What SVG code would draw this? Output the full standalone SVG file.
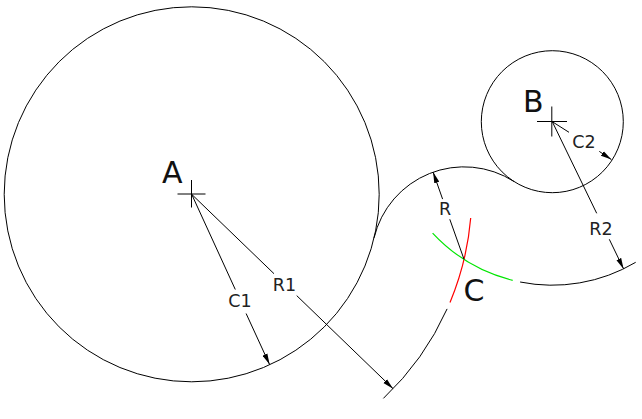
<svg xmlns="http://www.w3.org/2000/svg" width="642" height="419" viewBox="0 0 642 419">
<style>
.ln{fill:none;stroke:#000;stroke-width:1}
.red{fill:none;stroke:#ff0000;stroke-width:1.2}
.grn{fill:none;stroke:#00e600;stroke-width:1.2}
.big{font-family:"DejaVu Sans",Verdana,sans-serif;font-size:30px;fill:#111;text-anchor:middle}
.sm{font-family:"DejaVu Sans",Verdana,sans-serif;font-size:17.5px;fill:#222;text-anchor:middle}
</style>
<defs>
<marker id="arr" viewBox="-11 -3 11 6" markerWidth="11" markerHeight="6" refX="0" refY="0" orient="auto" markerUnits="userSpaceOnUse">
<path d="M0,0 L-11,-2.6 L-11,2.6 Z" fill="#000"/>
</marker>
</defs>
<rect width="642" height="419" fill="#fff"/>
<g id="circleA">
<circle class="ln" cx="191.7" cy="194.3" r="187.5"/>
<path class="ln" d="M177.5 194 H205.5 M191.5 180 V207.5"/>
<text class="big" x="172.2" y="182.7">A</text>
</g>
<g id="circleB">
<circle class="ln" cx="552.3" cy="121.7" r="71"/>
<path class="ln" d="M537 121.5 H567 M551.8 106.5 V136.5"/>
<text class="big" x="533.3" y="112.3">B</text>
</g>
<g id="pointC">
<text class="big" x="474" y="301">C</text>
</g>
<g id="arcs">
<path id="fillet" class="ln" d="M374.07 237.85 A92.5 92.5 0 0 1 513.97 181.47"/>
<path class="ln" d="M383.4 398.4 A280 280 0 0 0 447.1 308.9"/>
<path class="red" d="M450.0 302.4 A280 280 0 0 0 470.7 218.0"/>
<path class="grn" d="M432.6 233.1 A163.5 163.5 0 0 0 512.7 280.3"/>
<path class="ln" d="M520.1 282.0 A163.5 163.5 0 0 0 635.7 262.3"/>
</g>
<g id="connectors">
<path class="ln" d="M191.7 194.3 L235.3 289.5"/>
<path class="ln" d="M246.1 313.5 L269.6 364.6" marker-end="url(#arr)"/>
<path class="ln" d="M191.7 194.3 L274 273.7"/>
<path class="ln" d="M296.7 295.6 L393.1 388.7" marker-end="url(#arr)"/>
<path class="ln" d="M552.3 121.7 L569 132.3"/>
<path class="ln" d="M599.3 151.4 L611.4 159.6" marker-end="url(#arr)"/>
<path class="ln" d="M552.3 121.7 L596.7 213.3"/>
<path class="ln" d="M609.3 239.3 L623.6 268.9" marker-end="url(#arr)"/>
<path class="ln" d="M464.04 259.33 L449.8 219.3"/>
<path class="ln" d="M442.6 199.1 L433.1 172.1" marker-end="url(#arr)"/>
</g>
<g id="labels">
<text class="sm" x="240" y="307">C1</text>
<text class="sm" x="284.5" y="290.5">R1</text>
<text class="sm" x="584" y="148.3">C2</text>
<text class="sm" x="601" y="235">R2</text>
<text class="sm" x="445.2" y="215">R</text>
</g>
</svg>
